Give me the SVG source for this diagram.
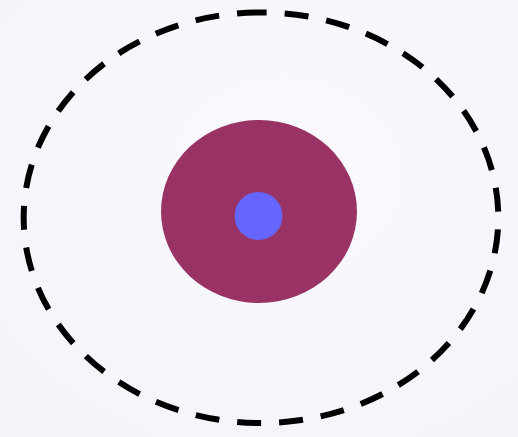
<svg xmlns="http://www.w3.org/2000/svg" width="518" height="437" viewBox="0 0 518 437">
  <defs>
    <radialGradient id="bg" cx="0.55" cy="0.4" r="0.8">
      <stop offset="0" stop-color="#f9f9fe"/>
      <stop offset="1" stop-color="#f3f3fa"/>
    </radialGradient>
    <style>
      .outer { fill: none; stroke: #000; stroke-width: 6; stroke-dasharray: 24 18; }
      .mid { fill: #993366; }
      .inner { fill: #6666ff; }
    </style>
  </defs>
  <rect width="518" height="437" fill="url(#bg)"/>
  <g id="outer">
    <path class="outer" d="M 261 12.4 A 237.4 205.3 0 0 0 261 423 A 237.4 205.3 0 0 0 261 12.4"/>
  </g>
  <g id="middle">
    <ellipse class="mid" cx="259" cy="211.5" rx="98" ry="91.5"/>
  </g>
  <g id="inner">
    <circle class="inner" cx="258.5" cy="216" r="24"/>
  </g>
</svg>
